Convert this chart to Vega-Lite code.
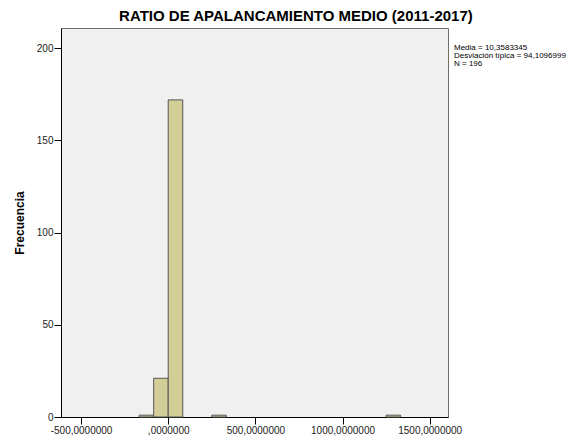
{
  "$schema": "https://vega.github.io/schema/vega-lite/v6.json",
  "background": "white",
  "padding": {"left": 12, "top": 8, "right": 0, "bottom": 0},
  "bounds": "flush",
  "title": {
    "text": "RATIO DE APALANCAMIENTO MEDIO (2011-2017)",
    "font": "Liberation Sans",
    "fontSize": 15,
    "fontWeight": "bold",
    "color": "black",
    "anchor": "middle",
    "offset": 4,
    "dx": 0
  },
  "spacing": 6,
  "hconcat": [
    {
      "width": 387,
      "height": 389,
      "view": {"fill": "#F0F0F0", "stroke": "#6e6e6e", "strokeWidth": 1},
      "data": {
        "values": [
          {"lo": -166.67, "hi": -83.33, "count": 1},
          {"lo": -83.33, "hi": 0, "count": 21},
          {"lo": 0, "hi": 83.33, "count": 172},
          {"lo": 250, "hi": 333.33, "count": 1},
          {"lo": 1250, "hi": 1333.33, "count": 1}
        ]
      },
      "mark": {"type": "rect", "fill": "#D3CE97", "stroke": "#555555", "strokeWidth": 1},
      "encoding": {
        "x": {
          "field": "lo",
          "type": "quantitative",
          "scale": {"domain": [-615, 1605], "nice": false, "zero": false},
          "axis": {
            "values": [-500, 0, 500, 1000, 1500],
            "labelExpr": "datum.value == 0 ? ',0000000' : datum.value + ',0000000'",
            "title": null,
            "grid": false,
            "tickSize": 7,
            "tickColor": "#000000",
            "domainColor": "#000000",
            "labelFont": "Liberation Sans",
            "labelFontSize": 10,
            "labelColor": "#222222",
            "labelPadding": 1
          }
        },
        "x2": {"field": "hi"},
        "y": {
          "field": "count",
          "type": "quantitative",
          "scale": {"domain": [0, 211], "nice": false},
          "axis": {
            "values": [0, 50, 100, 150, 200],
            "title": "Frecuencia",
            "titleFont": "Liberation Sans",
            "titleFontSize": 12,
            "titleFontWeight": "bold",
            "titleColor": "#000000",
            "titlePadding": 10,
            "grid": false,
            "tickSize": 7,
            "tickColor": "#000000",
            "domainColor": "#000000",
            "labelFont": "Liberation Sans",
            "labelFontSize": 10,
            "labelColor": "#222222",
            "labelPadding": 1
          }
        },
        "y2": {"datum": 0}
      }
    },
    {
      "width": 125,
      "height": 389,
      "view": {"stroke": null},
      "data": {
        "values": [
          {"pos": 0, "label": "Media = 10,3583345"},
          {"pos": 1, "label": "Desviación típica = 94,1096999"},
          {"pos": 2, "label": "N = 196"}
        ]
      },
      "mark": {"type": "text", "align": "left", "baseline": "alphabetic", "font": "Liberation Sans", "fontSize": 8, "color": "#000000"},
      "encoding": {
        "x": {"datum": 0, "type": "quantitative", "scale": {"domain": [0, 1]}, "axis": null},
        "y": {"field": "pos", "type": "quantitative", "scale": {"domain": [-2.75, 45.875], "reverse": true, "nice": false, "zero": false}, "axis": null},
        "text": {"field": "label"}
      }
    }
  ],
  "config": {"view": {"stroke": null}}
}
